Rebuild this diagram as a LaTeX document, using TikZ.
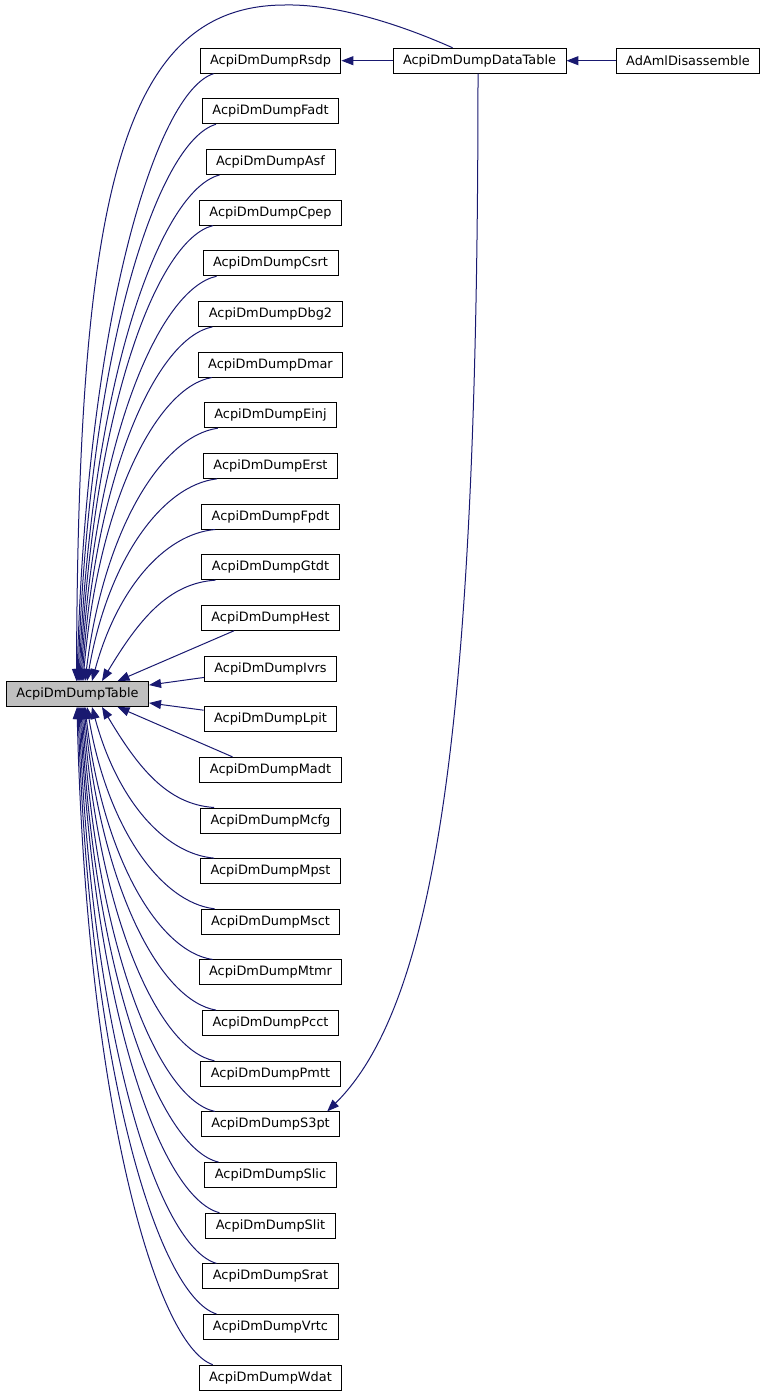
\documentclass[tikz,border=0pt]{standalone}
\usepackage{fontspec}
\setmainfont{DejaVu Sans}
\usepackage{xcolor}
\usepackage{tikz}
\usetikzlibrary{arrows.meta,calc}
\definecolor{edgeblue}{HTML}{191970}

\begin{document}
\begin{tikzpicture}[x=1pt,y=-1pt]
  \tikzstyle{fn}=[rectangle,draw,fill=white,line width=0.9pt,minimum height=25pt,inner xsep=10pt,font=\fontsize{12.9}{15}\selectfont]
  \tikzstyle{call}=[edgeblue,line width=1pt,-{Triangle[length=12pt,width=9pt]}]
  \useasboundingbox (0,0) rectangle (767,1397);
  \node[fn,fill=black!25] (tbl) at (77.5,694) {AcpiDmDumpTable};
  \node[fn] (data) at (479.5,60.7) {AcpiDmDumpDataTable};
  \node[fn] (aml) at (688,60.7) {AdAmlDisassemble};
  \foreach \f [count=\i from 0] in {Rsdp,Fadt,Asf,Cpep,Csrt,Dbg2,Dmar,Einj,Erst,Fpdt,Gtdt,Hest,Ivrs,Lpit,Madt,Mcfg,Mpst,Msct,Mtmr,Pcct,Pmtt,S3pt,Slic,Slit,Srat,Vrtc,Wdat}
    \node[fn] (\f) at (270.5,60.7+50.65*\i) {AcpiDmDump\f};
  \foreach \f/\ex/\a in {Rsdp/77/0.07,Fadt/78/0.08,Asf/79/0.09,Cpep/80/0.1,Csrt/81/0.1,Dbg2/82/0.11,Dmar/83/0.12,Einj/85/0.14,Erst/87/0.16,Fpdt/92/0.2,Gtdt/102/0.32}
    \draw[call] let \p1=($(\f.south west)+(14,0)$), \p2=($(tbl.north)+(\ex-77.5,0)$) in
      (\p1) .. controls (\x1-0.42*\x1+0.42*\x2, \y1+0.03*\y2-0.03*\y1) and (\x2+\a*\x1-\a*\x2, \y1+0.4*\y2-0.4*\y1) .. (\p2);
  \foreach \f/\ex/\a in {Mcfg/102/0.32,Mpst/92/0.2,Msct/87/0.16,Mtmr/85/0.14,Pcct/84/0.13,Pmtt/83/0.12,S3pt/82/0.11,Slic/81/0.1,Slit/80/0.1,Srat/79/0.09,Vrtc/78/0.08,Wdat/77/0.07}
    \draw[call] let \p1=($(\f.north west)+(14,0)$), \p2=($(tbl.south)+(\ex-77.5,0)$) in
      (\p1) .. controls (\x1-0.42*\x1+0.42*\x2, \y1+0.03*\y2-0.03*\y1) and (\x2+\a*\x1-\a*\x2, \y1+0.4*\y2-0.4*\y1) .. (\p2);
  \draw[call] ($(Hest.south west)+(33,0)$) -- ($(tbl.north)+(40,0)$);
  \draw[call] ($(Madt.north west)+(33,0)$) -- ($(tbl.south)+(40,0)$);
  \draw[call] ($(Ivrs.south west)+(0,-4)$) -- ($(tbl.north east)+(0,4)$);
  \draw[call] ($(Lpit.north west)+(0,4)$) -- ($(tbl.south east)+(0,-4)$);
  \draw[call] ($(data.north west)+(60,0)$) .. controls (390,20) and (330,4) .. (285,5)
    .. controls (120,5) and (78,200) .. ($(tbl.north)+(-1,0)$);
  \draw[call] (data.west) -- (Rsdp.east);
  \draw[call] (aml.west) -- (data.east);
  \draw[call] ($(data.south)+(-1.5,0)$) .. controls (478,700) and (440,1000) .. ($(S3pt.north east)+(-13,0)$);
\end{tikzpicture}
\end{document}
